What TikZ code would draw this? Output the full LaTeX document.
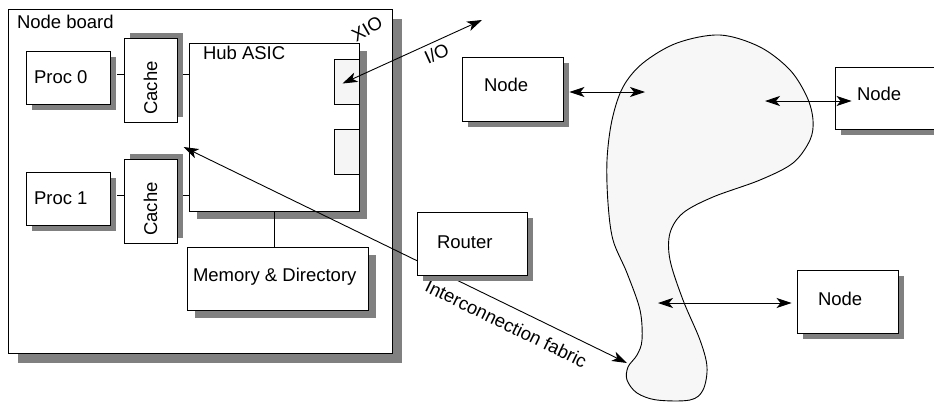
\documentclass[tikz,border=0pt]{standalone}
\usepackage{fontspec}
\setmainfont{Liberation Sans}
\usetikzlibrary{shadows,arrows.meta,calc}

\begin{document}
\begin{tikzpicture}[x=1pt,y=-1pt,line width=0.9pt,font=\fontsize{18.5}{22}\selectfont,
  >={Stealth[length=15pt,width=10pt,inset=4pt]},
  box/.style={draw,fill=white,inner sep=0pt,drop shadow={opacity=1,fill=black!50,shadow xshift=#1,shadow yshift=-#1}},
  box/.default=6pt,
  cachebox/.style={draw,fill=white,inner sep=0pt,minimum width=53pt,minimum height=84pt,
    drop shadow={opacity=1,fill=black!50,shadow xshift=6pt,shadow yshift=6pt}},
  port/.style={draw,fill=black!4,inner sep=0pt,minimum width=25pt,minimum height=45pt},
  txt/.style={anchor=west,inner sep=0pt}]
\useasboundingbox (0,0) rectangle (934,402);

\node[box=10pt,minimum width=384pt,minimum height=344pt,
  label={[txt,xshift=9pt,yshift=-13pt]north west:Node board}] (board) at (200,181) {};

\foreach \i/\y in {0/77.5,1/198.5} {
  \node[box,minimum width=84pt,minimum height=53pt,
    label={[txt,xshift=8pt]west:Proc \i}] (proc\i) at (68,\y) {};
  \node[cachebox,label={[yshift=-7.5pt,rotate=90]center:Cache}] (cache\i) at (150.5,\y+3) {};
}

\node[box=8pt,minimum width=170pt,minimum height=168pt,
  label={[txt,xshift=14pt,yshift=-10pt]north west:Hub ASIC}] (hub) at (274,127) {};
\foreach \p/\y in {0/81.5,1/151.5}
  \node[port] (xio\p) at (346.5,\y) {};
\node[box=8pt,minimum width=181pt,minimum height=63pt,
  label={[txt,xshift=6pt,yshift=2pt]west:Memory \& Directory}] (mem) at (277.5,278.5) {};

\foreach \i in {0,1} {
  \coordinate (l\i) at ($(proc\i.east)+(0,-3)$);
  \draw ($(l\i)+(7,0)$) -- (l\i -| cache\i.west);
  \draw ($(l\i -| cache\i.east)+(6,0)$) -- (l\i -| hub.west);
}
\draw (hub.south) -- (hub.south |- mem.north);

\node[rotate=30,inner sep=0pt] (xiolbl) at (367,29) {XIO};
\coordinate (ioin) at ($(xio0)+(-4,2)$);
\coordinate (ioout) at (482,20);
\draw[<->] (ioin) -- (ioout) node[pos=0.64,sloped,below=1pt] (iolbl) {I/O};

\node[box,minimum width=101pt,minimum height=64pt,
  label={[txt,xshift=22pt,yshift=4.5pt]west:Node}] (nodeA) at (512.5,89) {};
\node[box,minimum width=101pt,minimum height=62pt,
  label={[txt,xshift=22pt,yshift=4.5pt]west:Node}] (nodeB) at (885.5,98) {};
\node[box,minimum width=101pt,minimum height=63pt,
  label={[txt,xshift=21pt,yshift=3pt]west:Node}] (nodeC) at (847.5,301.5) {};

\draw[fill=black!3] plot[smooth cycle,tension=0.55] coordinates {
  (720,35) (677,43) (643,63) (623,87) (612,120) (607,160) (608,203) (613,240)
  (627,273) (640,310) (642,340) (637,355) (628,367) (627,380) (637,393) (657,400)
  (690,400) (703,390) (707,367) (700,340) (683,300) (670,260) (670,233) (683,213)
  (713,197) (760,180) (793,163) (810,140) (813,120) (807,97) (790,70) (760,47)};

\coordinate (fA) at (645,92);
\coordinate (fB) at (765,101);
\coordinate (fC) at (658,303);
\coordinate (fD) at (627,363);
\coordinate (hubin) at ($(hub.west)+(-5,20)$);

\draw[<->] ($(fA -| nodeA.east)+(6,0)$) -- (fA);
\draw[<->] (fB) -- ($(fB -| nodeB.west)+(17,0)$);
\draw[<->] (fC) -- ($(fC -| nodeC.west)+(-5,0)$);

\draw[<->] (hubin) -- (fD) node[pos=0.745,sloped,below=7pt] (fablbl) {Interconnection fabric};
\node[box,minimum width=110pt,minimum height=63pt,
  label={[txt,xshift=20pt,yshift=1pt]west:Router}] (router) at (472,243.5) {};
\end{tikzpicture}
\end{document}
